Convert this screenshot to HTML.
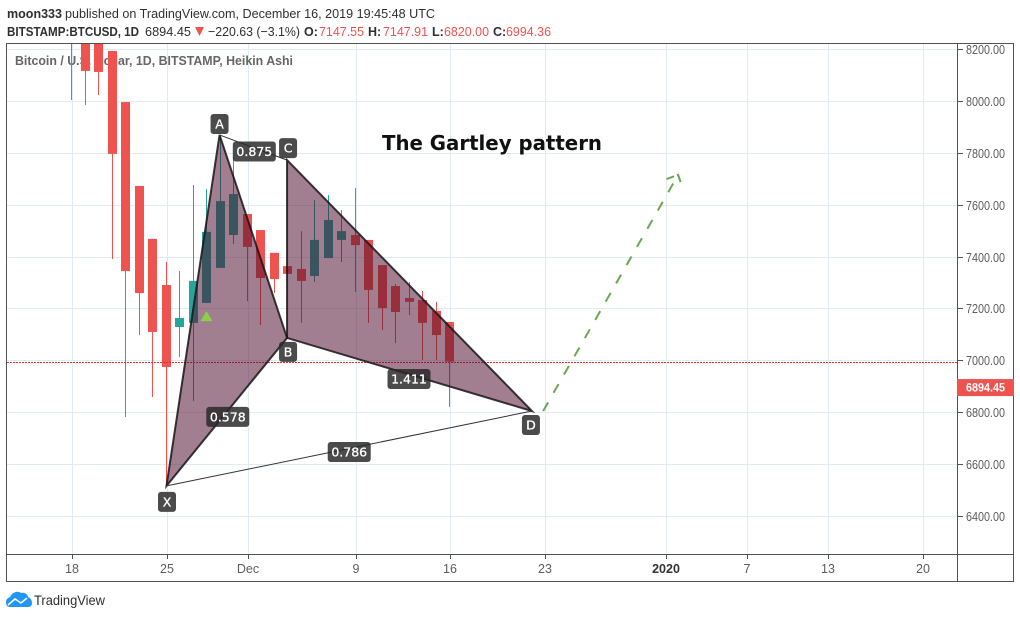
<!DOCTYPE html>
<html>
<head>
<meta charset="utf-8">
<title>BTCUSD Gartley pattern</title>
<style>
html,body{margin:0;padding:0;background:#fff;width:1020px;height:618px;overflow:hidden}
svg{display:block;font-family:"Liberation Sans",sans-serif}
</style>
</head>
<body>
<svg id="chart" xmlns="http://www.w3.org/2000/svg" width="1020" height="618" viewBox="0 0 1020 618">
  <defs><clipPath id="plot-clip"><rect x="7" y="44" width="950" height="510"/></clipPath></defs>

  <g font-size="13" fill="#2f2f2f">
    <text x="7" y="18" font-weight="bold" textLength="55" lengthAdjust="spacingAndGlyphs">moon333</text>
    <text x="65" y="18" textLength="370" lengthAdjust="spacingAndGlyphs">published on TradingView.com, December 16, 2019 19:45:48 UTC</text>
  </g>
  <g font-size="13" fill="#2f2f2f">
    <text x="7" y="36" font-weight="bold" textLength="132" lengthAdjust="spacingAndGlyphs">BITSTAMP:BTCUSD, 1D</text>
    <text x="145" y="36" textLength="46" lengthAdjust="spacingAndGlyphs">6894.45</text>
    <polygon points="195,27 204,27 199.5,36" fill="#ef5350"/>
    <text x="208" y="36" textLength="92" lengthAdjust="spacingAndGlyphs">−220.63 (−3.1%)</text>
    <text x="304" y="36" font-weight="bold" font-size="12.5">O:</text>
    <text x="319" y="36" fill="#ef5350" textLength="45" lengthAdjust="spacingAndGlyphs">7147.55</text>
    <text x="368" y="36" font-weight="bold" font-size="12.5">H:</text>
    <text x="383" y="36" fill="#ef5350" textLength="45" lengthAdjust="spacingAndGlyphs">7147.91</text>
    <text x="432" y="36" font-weight="bold" font-size="12.5">L:</text>
    <text x="444" y="36" fill="#ef5350" textLength="45" lengthAdjust="spacingAndGlyphs">6820.00</text>
    <text x="493" y="36" font-weight="bold" font-size="12.5">C:</text>
    <text x="506" y="36" fill="#ef5350" textLength="45" lengthAdjust="spacingAndGlyphs">6994.36</text>
  </g>

  <g id="grid"></g>
  <text x="15" y="65" font-size="13" font-weight="bold" fill="#666" textLength="278" lengthAdjust="spacingAndGlyphs">Bitcoin / U.S. Dollar, 1D, BITSTAMP, Heikin Ashi</text>
  <g id="candles" clip-path="url(#plot-clip)"></g>
  <g id="overlay" clip-path="url(#plot-clip)"></g>
  <g id="tags"></g>
  <text x="382" y="150" font-family="'DejaVu Sans',sans-serif" font-size="20" font-weight="bold" fill="#111" textLength="220" lengthAdjust="spacingAndGlyphs">The Gartley pattern</text>

  <g fill="#525252">
    <rect x="6" y="43" width="1008" height="1"/>
    <rect x="6" y="43" width="1" height="539"/>
    <rect x="6" y="581" width="1008" height="1"/>
    <rect x="1013" y="43" width="1" height="539"/>
    <rect x="957" y="43" width="1" height="539"/>
    <rect x="6" y="554" width="1008" height="1"/>
  </g>
  <g id="axes"></g>

  <g>
    <path d="M6 602 C6 599 8 598 10 597 C12 593 17 590 21 593 C25 592 28 595 28 597 C31 598 32 601 32 603 C32 606 30 607 28 607 L10 607 C7 607 6 605 6 602 Z" fill="#2196f3"/>
    <path d="M8 605 L15 599 L21 603 L27 598" fill="none" stroke="#fff" stroke-width="1.5"/>
    <text x="34" y="605" font-size="13.5" fill="#2f2f2f" textLength="71" lengthAdjust="spacingAndGlyphs">TradingView</text>
  </g>
</svg>
<script>
// Candle data, one entry per day starting Nov 18, 2019
const opens  = [8500,8400,8350,8193,7996,7672,7468,7290,7128,7144,7221,7356,7483,7564,7502,7414,7363,7352,7325,7394,7464,7483,7464,7367,7286,7240,7232,7190,7147.55];
const highs  = [8600,8450,8400,8193,7996,7672,7468,7379,7344,7676,7660,7869,7784,7564,7502,7414,7363,7498,7618,7637,7579,7664,7464,7367,7294,7302,7267,7225,7147.91];
const lows   = [8004,7985,8023,7390,6781,7097,6858,6515,7012,6843,7221,7356,7448,7228,7136,7259,7333,7144,7302,7394,7379,7263,7144,7117,7066,7174,7001,7001,6820];
const closes = [8260,8116,8112,7796,7344,7259,7109,6974,7163,7306,7495,7614,7641,7437,7317,7313,7333,7306,7464,7541,7498,7444,7271,7201,7186,7225,7144,7097,6994.36];

const priceTicks = [8200,8000,7800,7600,7400,7200,7000,6800,6600,6400];
const timeTickDays = [0,7,13,21,28,35,44,50,56,63];
const timeTickLabels = ['18','25','Dec','9','16','23','2020','7','13','20'];

const lastPrice = 6894.45;
const prevClose = 6994.36;

// Gartley pattern anchors: day index and price for X, A, B, C, D
const patternDays   = [7,10.93,15.93,15.93,34.07];
const patternPrices = [6515,7869,7086,7772,6804];
const patternNames  = ['X','A','B','C','D'];

// Ratio labels
const ratioTexts = ['0.875','0.578','1.411','0.786'];

// Projected dashed arrow: day index and price
const arrowDays   = [34.9,44.9];
const arrowPrices = [6804,7715];
const arrowHeadDays   = [44.04,45.26];
const arrowHeadPrices = [7699,7660];

// Buy marker
const markerDay = 10;
const markerPrice = 7170;

const NS = 'http://www.w3.org/2000/svg';
const xAxis = d => 72 + 13.5 * d;
const yAxis = p => 101 + (8000 - p) * 0.2592;

function mk(parent, tag, attrs, text) {
  const el = document.createElementNS(NS, tag);
  for (const k in attrs) el.setAttribute(k, attrs[k]);
  if (text !== undefined) el.textContent = text;
  parent.appendChild(el);
  return el;
}

const grid = document.getElementById('grid');
const axes = document.getElementById('axes');
const candles = document.getElementById('candles');
const overlay = document.getElementById('overlay');
const tags = document.getElementById('tags');

// Grid and price axis
priceTicks.forEach(p => {
  const y = Math.round(yAxis(p));
  const line = mk(grid, 'rect', {x: 7, y: y, width: 950, height: 1, fill: '#e1ecf2'});
  
  
  const tick = mk(axes, 'rect', {x: 958, y: y, width: 5, height: 1, fill: '#525252'});
  
  
  const label = mk(axes, 'text', {x: 966, y: y + 5, 'font-size': 12.5, fill: '#5c5c5c', textLength: 39, lengthAdjust: 'spacingAndGlyphs'}, p.toFixed(2));
  
  
});

// Grid and time axis
timeTickDays.forEach((d, i) => {
  const x = Math.round(xAxis(d));
  const line = mk(grid, 'rect', {x: x, y: 44, width: 1, height: 510, fill: '#e1ecf2'});
  
  
  const tick = mk(axes, 'rect', {x: x, y: 555, width: 1, height: 4, fill: '#525252'});
  
  
  const isYear = timeTickLabels[i] === '2020';
  const label = mk(axes, 'text', {x: x, y: 573, 'font-size': 12.5, 'text-anchor': 'middle', fill: isYear ? '#333' : '#5c5c5c', 'font-weight': isYear ? 'bold' : 'normal'}, timeTickLabels[i]);
  
  
});

// Candles
opens.forEach((o, i) => {
  const c = closes[i];
  const color = c >= o ? '#26a69a' : '#ef5350';
  const left = Math.round(71 + 13.5 * i);
  const g = mk(candles, 'g', {fill: color});
  
  
  const wickTop = yAxis(highs[i]);
  const wickBottom = yAxis(lows[i]);
  const wick = mk(g, 'rect', {x: left, y: wickTop, width: 1, height: Math.max(0, wickBottom - wickTop)});
  
  
  const bodyTop = yAxis(Math.max(o, c));
  const bodyBottom = yAxis(Math.min(o, c));
  const body = mk(g, 'rect', {x: left - 4, y: bodyTop, width: 9, height: Math.max(1, bodyBottom - bodyTop)});
  
  
});

// Previous close dotted line
const prevY = Math.round(yAxis(prevClose)) + 0.5;
const prevLine = mk(overlay, 'line', {x1: 7, x2: 957, y1: prevY, y2: prevY, stroke: '#f42a2a', 'stroke-width': 1, 'stroke-dasharray': '2 1'});



// Pattern
const P = patternDays.map((d, i) => ({x: xAxis(d), y: yAxis(patternPrices[i])}));
const [X, A, B, C, D] = P;
const fillColor = 'rgba(77,13,45,0.53)';
const edge = 'rgba(25,20,24,0.85)';
const tri1 = mk(overlay, 'polygon', {points: `${X.x},${X.y} ${A.x},${A.y} ${B.x},${B.y}`, fill: fillColor, stroke: edge, 'stroke-width': 2, 'stroke-linejoin': 'miter'});


const tri2 = mk(overlay, 'polygon', {points: `${B.x},${B.y} ${C.x},${C.y} ${D.x},${D.y}`, fill: fillColor, stroke: edge, 'stroke-width': 2, 'stroke-linejoin': 'miter'});


const lineAC = mk(overlay, 'line', {x1: A.x, y1: A.y, x2: C.x, y2: C.y, stroke: '#333', 'stroke-width': 1});


const lineXD = mk(overlay, 'line', {x1: X.x, y1: X.y, x2: D.x, y2: D.y, stroke: '#333', 'stroke-width': 1});



// Buy marker, drawn above the pattern
const mx = xAxis(markerDay) - 0.5;
const my = yAxis(markerPrice);
const marker = mk(overlay, 'polygon', {points: `${mx},${my - 5} ${mx + 6},${my + 5} ${mx - 6},${my + 5}`, fill: '#8bd048'});



// Projection arrow
const arrow = mk(overlay, 'line', {x1: xAxis(arrowDays[0]), y1: yAxis(arrowPrices[0]), x2: xAxis(arrowDays[1]), y2: yAxis(arrowPrices[1]), stroke: '#6aa84f', 'stroke-width': 2, 'stroke-dasharray': '10 11'});


const head = mk(overlay, 'polyline', {points: `${xAxis(arrowHeadDays[0])},${yAxis(arrowHeadPrices[0])} ${xAxis(arrowDays[1])},${yAxis(arrowPrices[1])} ${xAxis(arrowHeadDays[1])},${yAxis(arrowHeadPrices[1])}`, fill: 'none', stroke: '#6aa84f', 'stroke-width': 2, 'stroke-dasharray': '8 3 9'});



// Tags
function drawTag(text, cx, cy, w, name) {
  const g = mk(tags, 'g', {});
  
  
  const r = mk(g, 'rect', {x: cx - w / 2, y: cy - 10, width: w, height: 20, rx: 3, fill: 'rgba(40,40,40,0.84)'});
  
  
  const t = mk(g, 'text', {x: cx, y: cy + 4.5, 'text-anchor': 'middle', 'font-family': "'DejaVu Sans',sans-serif", 'font-size': 12.5, fill: '#fff', stroke: '#fff', 'stroke-width': 0.3}, text);
  
  
}
drawTag(patternNames[0], X.x + 0.5, X.y + 16, 18, 'point-x-label');
drawTag(patternNames[1], A.x, A.y - 11, 18, 'point-a-label');
drawTag(patternNames[2], B.x + 1, B.y + 14, 18, 'point-b-label');
drawTag(patternNames[3], C.x + 1, C.y - 12, 18, 'point-c-label');
drawTag(patternNames[4], D.x - 1, D.y + 14, 18, 'point-d-label');
drawTag(ratioTexts[0], (A.x + C.x) / 2 + 1, (A.y + C.y) / 2 + 4, 43, 'ratio-ac-label');
drawTag(ratioTexts[1], (X.x + B.x) / 2 + 1, (X.y + B.y) / 2 + 5, 43, 'ratio-xb-label');
drawTag(ratioTexts[2], (B.x + D.x) / 2 - 0.5, (B.y + D.y) / 2 + 4.5, 43, 'ratio-bd-label');
drawTag(ratioTexts[3], (X.x + D.x) / 2, (X.y + D.y) / 2 + 3.5, 43, 'ratio-xd-label');

// Last price label
const lastY = yAxis(lastPrice);
const lastBox = mk(axes, 'rect', {x: 957, y: lastY - 8.5, width: 57, height: 17, fill: '#ef5350'});


const lastText = mk(axes, 'text', {x: 966, y: lastY + 4, 'font-size': 12, 'font-weight': 'bold', fill: '#fff', textLength: 39, lengthAdjust: 'spacingAndGlyphs'}, lastPrice.toFixed(2));


</script>
</body>
</html>
